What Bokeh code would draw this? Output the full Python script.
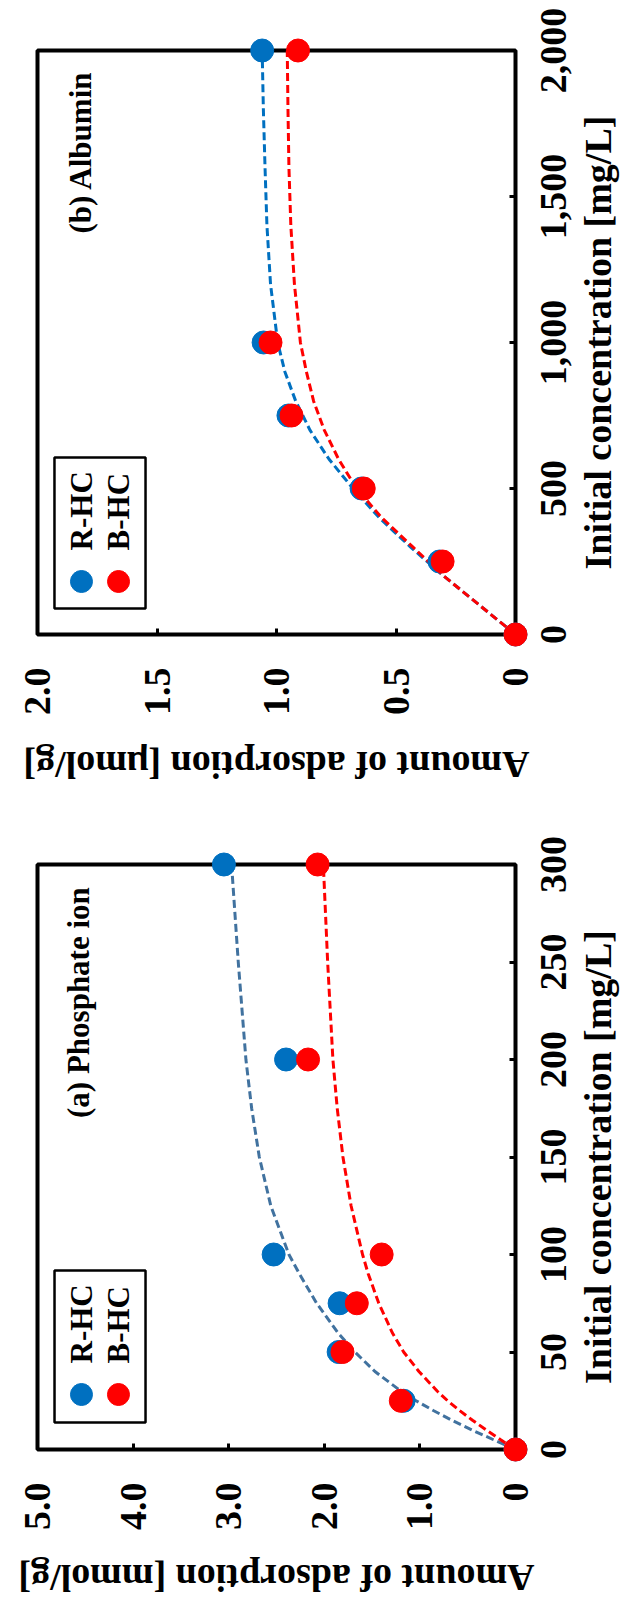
import math
from bokeh.plotting import figure
from bokeh.models import Range1d, LinearAxis, FixedTicker, Label, BoxAnnotation
from bokeh.core.properties import value
from bokeh.layouts import column
from bokeh.embed import file_html
from bokeh.resources import INLINE

# ---------------- data ----------------
# (b) Albumin  (x: initial concentration mg/L, y: adsorption umol/g)
alb_conc = [0, 250, 500, 750, 1000, 2000]
alb_rhc = [0, 0.318, 0.644, 0.95, 1.054, 1.06]
alb_bhc = [0, 0.305, 0.635, 0.937, 1.025, 0.91]
alb_fit_conc = [0, 100, 200, 300, 400, 500, 600, 700, 800, 900, 1000, 1200, 1400, 1600, 1800, 2000]
alb_fit_rhc = [0, 0.15, 0.30, 0.44, 0.57, 0.68, 0.78, 0.86, 0.92, 0.965, 0.995, 1.025, 1.04, 1.048, 1.055, 1.06]
alb_fit_bhc = [0, 0.15, 0.30, 0.43, 0.56, 0.665, 0.74, 0.80, 0.845, 0.875, 0.90, 0.925, 0.94, 0.948, 0.952, 0.955]
alb_xticks = [0, 500, 1000, 1500, 2000]
alb_xlabels = ["0", "500", "1,000", "1,500", "2,000"]
alb_yticks = [0, 0.5, 1.0, 1.5, 2.0]
alb_ylabels = ["0", "0.5", "1.0", "1.5", "2.0"]

# (a) Phosphate ion (x: initial concentration mg/L, y: adsorption mmol/g)
pho_conc = [0, 25, 50, 75, 100, 200, 300]
pho_rhc = [0, 1.17, 1.85, 1.84, 2.53, 2.40, 3.05]
pho_bhc = [0, 1.20, 1.81, 1.66, 1.40, 2.17, 2.07]
pho_fit_conc = [0, 5, 10, 15, 20, 25, 30, 40, 50, 60, 75, 90, 100, 125, 150, 175, 200, 250, 300]
pho_fit_rhc = [0, 0.23, 0.455, 0.665, 0.86, 1.04, 1.20, 1.47, 1.68, 1.86, 2.08, 2.26, 2.37, 2.56, 2.68, 2.76, 2.82, 2.90, 2.97]
pho_fit_bhc = [0, 0.155, 0.305, 0.45, 0.585, 0.71, 0.82, 1.01, 1.17, 1.29, 1.43, 1.54, 1.60, 1.72, 1.805, 1.865, 1.91, 1.965, 2.01]
pho_xticks = [0, 50, 100, 150, 200, 250, 300]
pho_xlabels = ["0", "50", "100", "150", "200", "250", "300"]
pho_yticks = [0, 1.0, 2.0, 3.0, 4.0, 5.0]
pho_ylabels = ["0", "1.0", "2.0", "3.0", "4.0", "5.0"]

series_names = ["R-HC", "B-HC"]
xtitle = "Initial concentration [mg/L]"
BLUE = "#0070C0"
RED = "#FF0000"
FONT = "Liberation Serif"
BIG = "38px"
MID = "31px"

FW = 478          # frame width (px)
LEFT = 37         # border left
RIGHT = 112       # border right


def panel(conc, rhc, bhc, fconc, frhc, fbhc, xticks, xlabels, yticks, ylabels,
          xmax, ymax, ytitle, title, fit_blue, top, fh, bottom,
          title_at, legend_box, legend_dots, legend_text_y, ytitle_off):
    p = figure(frame_width=FW, frame_height=fh,
               x_range=Range1d(ymax, 0), y_range=Range1d(0, xmax),
               x_axis_location=None, y_axis_location=None,
               output_backend="svg", toolbar_location=None,
               min_border_left=LEFT, min_border_right=RIGHT,
               min_border_top=top, min_border_bottom=bottom,
               background_fill_color="white", border_fill_color="white")
    p.grid.visible = False
    p.outline_line_color = "black"
    p.outline_line_width = 4

    # offsets in px outside the frame -> data units (frame geometry only)
    ux = ymax / FW
    uy = xmax / fh

    def amt(px_right):
        return -px_right * ux

    def cc(px_below):
        return -px_below * uy

    ax = LinearAxis(ticker=FixedTicker(ticks=yticks))
    ay = LinearAxis(ticker=FixedTicker(ticks=xticks))
    for a in (ax, ay):
        a.axis_line_color = None
        a.major_tick_in = 6
        a.major_tick_out = 0
        a.major_tick_line_width = 3
        a.minor_tick_line_color = None
        a.major_label_text_color = None
        a.major_label_text_font_size = "10px"
    p.add_layout(ax, "below")
    p.add_layout(ay, "right")

    gtxt = dict(text_font=value(FONT), text_font_style="bold", text_color="black",
                text_font_size=value(BIG), level="annotation")
    # tick labels (rotated like the reference)
    p.text(x=[amt(38)] * len(xticks), y=xticks, text=xlabels, angle=math.pi / 2,
           text_align="center", text_baseline="middle", **gtxt)
    p.text(x=yticks, y=[cc(33)] * len(yticks), text=ylabels, angle=math.pi / 2,
           text_align="right", text_baseline="middle", **gtxt)
    # axis titles
    p.text(x=[amt(82)], y=[xmax / 2], text=[xtitle], angle=math.pi / 2,
           text_align="center", text_baseline="middle", **gtxt)
    p.text(x=[ymax / 2], y=[cc(ytitle_off)], text=[ytitle], angle=math.pi,
           text_align="center", text_baseline="middle", **gtxt)

    # fitted curves
    p.line(frhc, fconc, line_color=fit_blue, line_width=3, line_dash="8 4")
    p.line(fbhc, fconc, line_color=RED, line_width=3, line_dash="8 4")
    # points
    p.scatter(rhc, conc, size=23, fill_color=BLUE, line_color=BLUE, level="annotation")
    p.scatter(bhc, conc, size=23, fill_color=RED, line_color=RED, level="annotation")

    txt = dict(text_font=FONT, text_font_style="bold", text_color="black")
    # panel title
    p.add_layout(Label(x=title_at[0], y=title_at[1], text=title, angle=math.pi / 2,
                       text_font_size=MID, text_align="left", text_baseline="middle", **txt))
    # legend
    l, r, t, b = legend_box
    p.add_layout(BoxAnnotation(left=l, right=r, top=t, bottom=b, fill_color=None,
                               line_color="black", line_alpha=1.0, line_width=2.5,
                               level="annotation"))
    p.scatter([legend_dots[0][0]], [legend_dots[1]], size=22, fill_color=BLUE,
              line_color=BLUE, level="annotation")
    p.scatter([legend_dots[0][1]], [legend_dots[1]], size=22, fill_color=RED,
              line_color=RED, level="annotation")
    for xx, name in zip(legend_dots[0], series_names):
        p.add_layout(Label(x=xx, y=legend_text_y, text=name, angle=math.pi / 2,
                           text_font_size=MID, text_align="left", text_baseline="middle", **txt))
    return p


pb = panel(alb_conc, alb_rhc, alb_bhc, alb_fit_conc, alb_fit_rhc, alb_fit_bhc,
           alb_xticks, alb_xlabels, alb_yticks, alb_ylabels, 2000, 2.0,
           "Amount of adsorption [\u03bcmol/g]", "(b) Albumin", BLUE, 50, 584, 166,
           (1.82, 1373), (1.929, 1.548, 606, 89), ((1.816, 1.661), 181.5), 288, 130)

pa = panel(pho_conc, pho_rhc, pho_bhc, pho_fit_conc, pho_fit_rhc, pho_fit_bhc,
           pho_xticks, pho_xlabels, pho_yticks, pho_ylabels, 300, 5.0,
           "Amount of adsorption [mmol/g]", "(a) Phosphate ion", "#41729F", 64, 585, 151,
           (4.57, 170), (4.822, 3.870, 91.8, 13.8), ((4.54, 4.153), 28.2), 44.1, 128)

layout = column(pb, pa)
open("out.html", "w").write(file_html(layout, INLINE))
